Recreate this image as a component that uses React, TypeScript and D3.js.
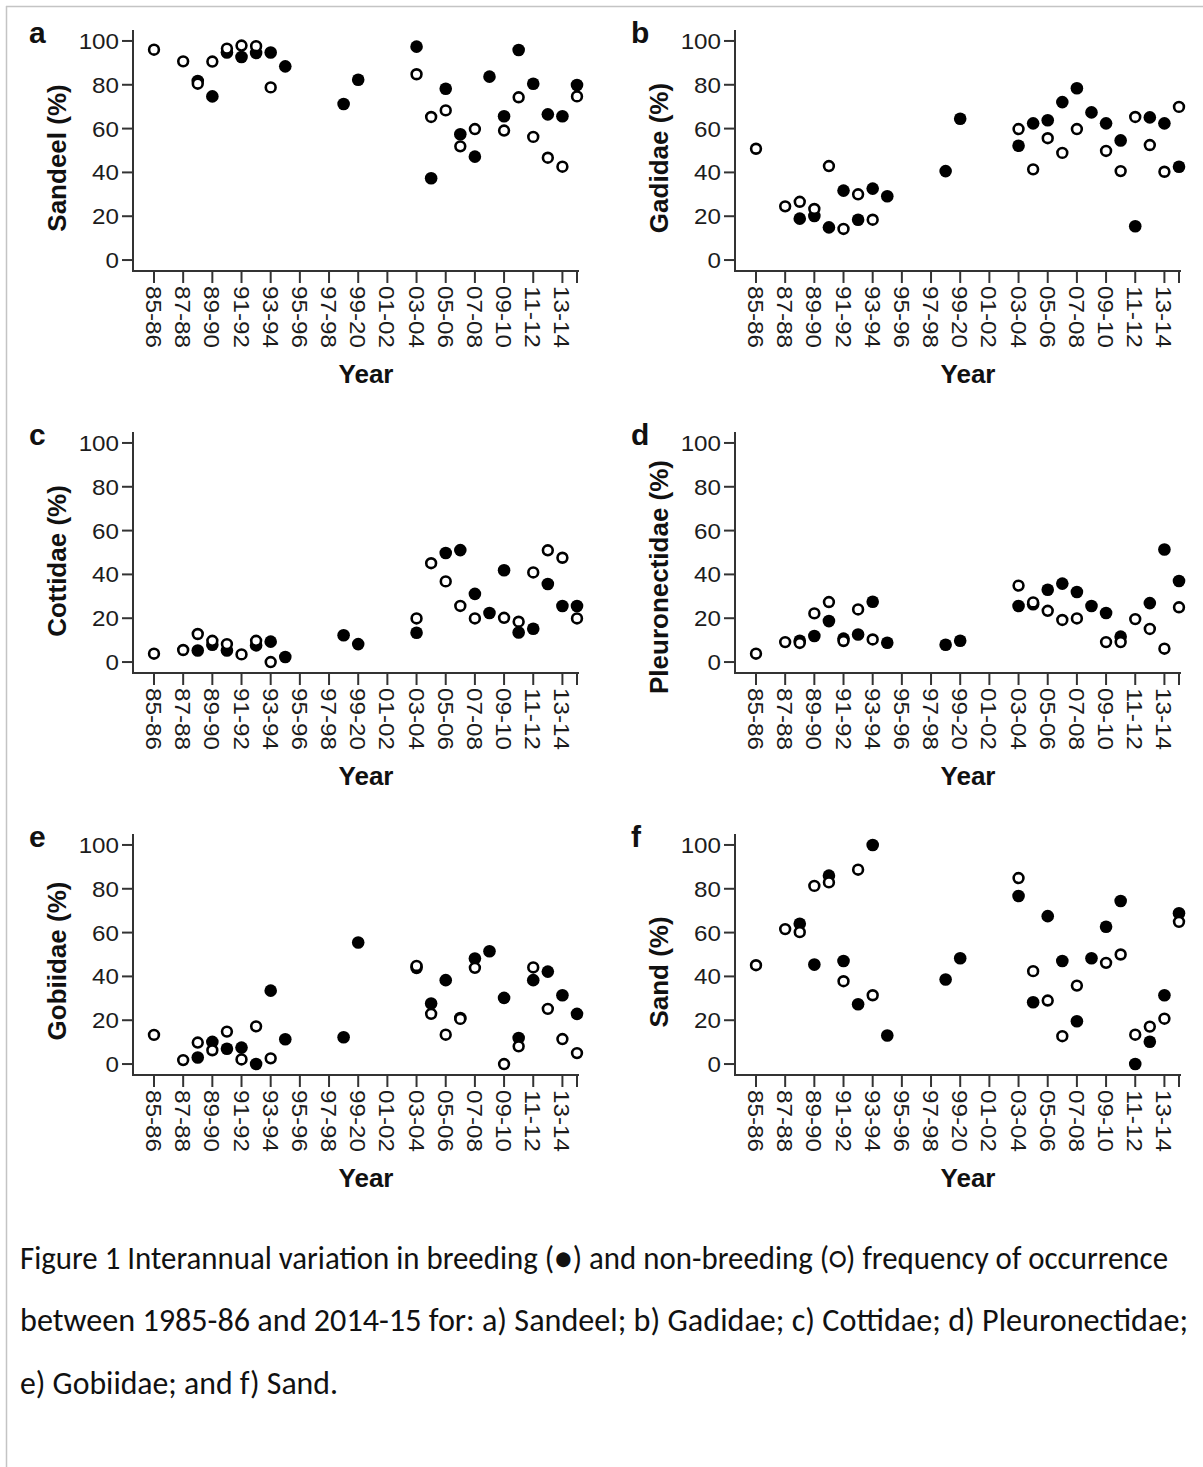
import React from 'react';
import * as d3 from 'd3';

// seasons 1985-86 .. 2014-15
const seasons = [
  '85-86', '86-87', '87-88', '88-89', '89-90', '90-91', '91-92', '92-93', '93-94', '94-95',
  '95-96', '96-97', '97-98', '98-99', '99-00', '00-01', '01-02', '02-03', '03-04', '04-05',
  '05-06', '06-07', '07-08', '08-09', '09-10', '10-11', '11-12', '12-13', '13-14', '14-15',
];
const tickSeasons = [
  '85-86', '87-88', '89-90', '91-92', '93-94', '95-96', '97-98', '99-00',
  '01-02', '03-04', '05-06', '07-08', '09-10', '11-12', '13-14', '14-15',
];
const tickLabels = [
  '85-86', '87-88', '89-90', '91-92', '93-94', '95-96', '97-98', '99-20',
  '01-02', '03-04', '05-06', '07-08', '09-10', '11-12', '13-14', '',
];
const yTicks = [0, 20, 40, 60, 80, 100];

const _ = null;

const sandeelBreeding = [_, _, _, 81.7, 74.7, 94.7, 92.7, 94.5, 94.7, 88.4, _, _, _, 71.2, 82.3, _, _, _, 97.4, 37.3, 78.2, 57.4, 47.2, 83.7, 65.6, 95.9, 80.5, 66.5, 65.6, 79.9];
const sandeelNon = [96.0, _, 90.7, 80.5, 90.6, 96.5, 97.9, 97.6, 78.8, _, _, _, _, _, _, _, _, _, 84.8, 65.3, 68.3, 51.9, 59.8, _, 59.1, 74.3, 56.2, 46.7, 42.6, 74.7];

const gadidaeBreeding = [_, _, _, 18.9, 20.1, 14.9, 31.7, 18.4, 32.6, 29.1, _, _, _, 40.6, 64.5, _, _, _, 52.2, 62.4, 63.8, 72.1, 78.4, 67.4, 62.4, 54.6, 15.4, 65.1, 62.4, 42.6];
const gadidaeNon = [50.8, _, 24.5, 26.6, 23.3, 42.9, 14.2, 30.0, 18.4, _, _, _, _, _, _, _, _, _, 59.8, 41.4, 55.6, 48.9, 59.8, _, 49.8, 40.6, 65.3, 52.5, 40.3, 69.9];

const cottidaeBreeding = [_, _, _, 5.3, 7.9, 5.3, _, 7.6, 9.3, 2.3, _, _, _, 12.2, 8.2, _, _, _, 13.4, _, 49.8, 51.1, 31.1, 22.4, 41.9, 13.5, 15.2, 35.6, 25.6, 25.6];
const cottidaeNon = [3.8, _, 5.5, 12.8, 9.7, 8.2, 3.5, 9.7, 0, _, _, _, _, _, _, _, _, _, 19.9, 45.1, 36.8, 25.6, 19.9, _, 20.2, 18.4, 40.9, 51.0, 47.6, 19.9];

const pleuroBreeding = [_, _, _, 9.7, 11.9, 18.7, 10.7, 12.6, 27.5, 8.8, _, _, _, 7.9, 9.7, _, _, _, 25.6, 26.4, 33.0, 35.8, 32.0, 25.6, 22.4, 11.6, _, 26.9, 51.4, 37.0];
const pleuroNon = [3.8, _, 9.1, 8.7, 22.2, 27.4, 9.6, 24.0, 10.3, _, _, _, _, _, _, _, _, _, 34.9, 27.2, 23.4, 19.2, 19.9, _, 9.1, 9.1, 19.6, 15.1, 6.1, 25.0];

const gobiidaeBreeding = [_, _, _, 3.0, 10.1, 7.0, 7.5, 0, 33.5, 11.3, _, _, _, 12.2, 55.5, _, _, _, 43.9, 27.6, 38.3, 21.0, 48.2, 51.5, 30.2, 11.9, 38.3, 42.2, 31.4, 22.9];
const gobiidaeNon = [13.3, _, 1.8, 9.8, 6.3, 14.8, 2.1, 17.2, 2.6, _, _, _, _, _, _, _, _, _, 44.8, 22.9, 13.4, 20.6, 43.9, _, 0, 8.1, 44.1, 25.2, 11.4, 5.0];

const sandBreeding = [_, _, _, 64.0, 45.4, 86.0, 47.0, 27.3, 100, 13.0, _, _, _, 38.6, 48.3, _, _, _, 76.7, 28.2, 67.5, 47.0, 19.5, 48.3, 62.7, 74.4, 0, 10.2, 31.4, 68.8];
const sandNon = [45.1, _, 61.6, 60.2, 81.3, 82.9, 37.8, 88.7, 31.4, _, _, _, _, _, _, _, _, _, 84.9, 42.4, 29.0, 12.7, 35.8, _, 46.2, 50.0, 13.4, 17.1, 20.7, 64.9];

const panelLetters = ['a', 'b', 'c', 'd', 'e', 'f'];
const panelTitles = ['Sandeel (%)', 'Gadidae (%)', 'Cottidae (%)', 'Pleuronectidae (%)', 'Gobiidae (%)', 'Sand (%)'];
const breedingSeries = [sandeelBreeding, gadidaeBreeding, cottidaeBreeding, pleuroBreeding, gobiidaeBreeding, sandBreeding];
const nonBreedingSeries = [sandeelNon, gadidaeNon, cottidaeNon, pleuroNon, gobiidaeNon, sandNon];

const captionLines = [
  'Figure 1 Interannual variation in breeding (\u25CF) and non-breeding (\u25CB) frequency of occurrence',
  'between 1985-86 and 2014-15 for: a) Sandeel; b) Gadidae; c) Cottidae; d) Pleuronectidae;',
  'e) Gobiidae; and f) Sand.',
];

const W = 1203;
const H = 1467;
const plotW = 446;
const plotH = 241;
const tickFont = 22;
const axisColor = '#333';
const tickFamily = '"Liberation Sans", Arial, Helvetica, sans-serif';
const captionFamily = 'Carlito, Calibri, "Open Sans", sans-serif';

// vertical centre of each y title, measured from the top of the axis
const titleCentres = [128, 128, 129, 145, 127, 138];

// Arial digit/hyphen advance widths, stretched a little to match the source
const labelWidth = (s: string) => {
  let w = 0;
  for (const ch of s) w += ch === '-' ? 0.333 : 0.556;
  return w * tickFont * 1.1;
};

const x = d3.scalePoint<string>().domain(seasons).range([21, 444]);
const y = d3.scaleLinear().domain([-5, 105]).range([plotH, 0]);

type PanelProps = {
  ox: number;
  oy: number;
  letter: string;
  title: string;
  titleY: number;
  breeding: (number | null)[];
  nonBreeding: (number | null)[];
};

const Panel = ({ ox, oy, letter, title, titleY, breeding, nonBreeding }: PanelProps) => {
  const filled = seasons
    .map((s, i) => ({ s, v: breeding[i] }))
    .filter((d) => d.v !== null);
  const open = seasons
    .map((s, i) => ({ s, v: nonBreeding[i] }))
    .filter((d) => d.v !== null);

  return (
    <g transform={`translate(${ox},${oy})`}>
      <text x={-104} y={13} fontFamily={tickFamily} fontWeight="bold" fontSize={30} fill="#111">
        {letter}
      </text>

      {/* y axis */}
      <line x1={0} x2={0} y1={0} y2={plotH} stroke={axisColor} strokeWidth={2} />
      {yTicks.map((t) => (
        <g key={t} transform={`translate(0,${y(t)})`}>
          <line x1={-11} x2={0} stroke={axisColor} strokeWidth={2} />
          <text
            x={-14}
            dy="0.36em"
            textAnchor="end"
            fontFamily={tickFamily}
            fontSize={tickFont}
            fill="#1c1c1c"
            textLength={labelWidth(String(t))}
            lengthAdjust="spacingAndGlyphs"
          >
            {t}
          </text>
        </g>
      ))}

      {/* x axis */}
      <line x1={-1} x2={plotW} y1={plotH} y2={plotH} stroke={axisColor} strokeWidth={2} />
      {tickSeasons.map((s, i) => (
        <g key={s} transform={`translate(${x(s)},${plotH})`}>
          <line y1={0} y2={12} stroke={axisColor} strokeWidth={2} />
          {tickLabels[i] && (
            <text
              transform="translate(0,15) rotate(90)"
              dy="0.36em"
              fontFamily={tickFamily}
              fontSize={tickFont}
              fill="#1c1c1c"
              textLength={labelWidth(tickLabels[i])}
              lengthAdjust="spacingAndGlyphs"
            >
              {tickLabels[i]}
            </text>
          )}
        </g>
      ))}

      <text
        x={plotW / 2 + 10}
        y={353}
        textAnchor="middle"
        fontFamily={tickFamily}
        fontWeight="bold"
        fontSize={26}
        fill="#111"
      >
        Year
      </text>
      <text
        transform={`translate(-67,${titleY}) rotate(-90)`}
        textAnchor="middle"
        fontFamily={tickFamily}
        fontWeight="bold"
        fontSize={26}
        fill="#111"
      >
        {title}
      </text>

      {filled.map((d) => (
        <circle key={'f' + d.s} cx={x(d.s)} cy={y(d.v as number)} r={6.3} fill="#000" />
      ))}
      {open.map((d) => (
        <circle
          key={'o' + d.s}
          cx={x(d.s)}
          cy={y(d.v as number)}
          r={4.9}
          fill="#fff"
          stroke="#000"
          strokeWidth={2.6}
        />
      ))}
    </g>
  );
};

const colX = [133, 735];
const rowY = [30, 432, 834];
const captionY = [1269, 1331, 1394];
const captionWidths = [1148, 1168, 318];

export default function App() {
  return (
    <svg
      width={W}
      height={H}
      viewBox={`0 0 ${W} ${H}`}
      style={{ position: 'absolute', left: 0, top: 0, background: '#fff' }}
    >
      <rect x={0} y={0} width={W} height={H} fill="#fff" />
      <line x1={6} x2={W} y1={6.5} y2={6.5} stroke="#c4c4c4" strokeWidth={1.5} />
      <line x1={6.5} x2={6.5} y1={6} y2={H} stroke="#c4c4c4" strokeWidth={1.5} />

      {panelLetters.map((letter, i) => (
        <Panel
          key={letter}
          ox={colX[i % 2]}
          oy={rowY[Math.floor(i / 2)]}
          letter={letter}
          title={panelTitles[i]}
          titleY={titleCentres[i]}
          breeding={breedingSeries[i]}
          nonBreeding={nonBreedingSeries[i]}
        />
      ))}

      {captionLines.map((line, i) => (
        <text
          key={i}
          transform={`translate(20,${captionY[i]}) scale(1,1.07)`}
          fontFamily={captionFamily}
          fontSize={30}
          fill="#111"
          textLength={captionWidths[i]}
          lengthAdjust="spacingAndGlyphs"
        >
          {line}
        </text>
      ))}
    </svg>
  );
}
